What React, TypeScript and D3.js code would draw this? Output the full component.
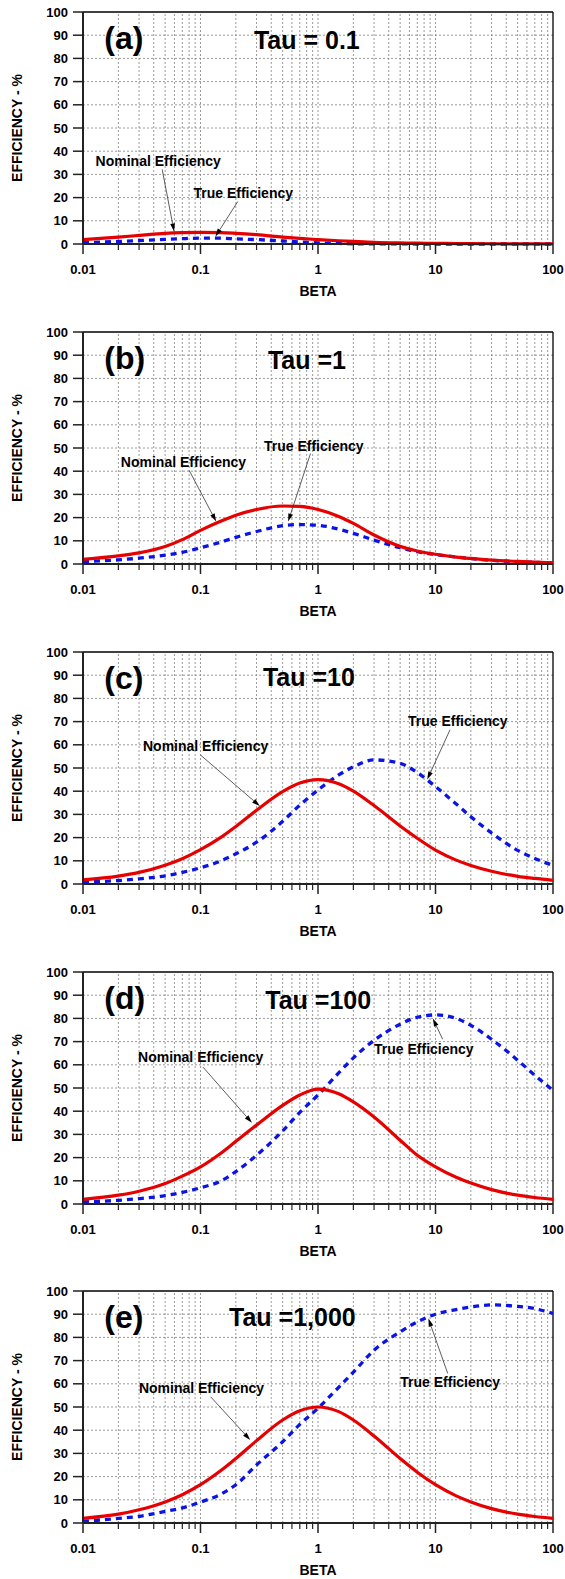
import React from 'react';
import * as d3 from 'd3';

const BETA = [0.01, 0.02, 0.03, 0.05, 0.07, 0.1, 0.15, 0.2, 0.3, 0.5, 0.7, 1, 1.5, 2, 3, 5, 7, 10, 15, 20, 30, 50, 70, 100];

const nominalA = [1.9, 3.0, 3.7, 4.6, 4.9, 5.0, 4.9, 4.6, 4.0, 3.0, 2.4, 1.9, 1.4, 1.1, 0.7, 0.45, 0.35, 0.3, 0.2, 0.15, 0.1, 0.06, 0.04, 0.03];
const trueA = [0.6, 1.1, 1.5, 2.0, 2.3, 2.5, 2.5, 2.2, 1.9, 1.3, 0.9, 0.5, 0.25, 0.1, 0.05, 0.02, 0.01, 0, 0, 0, 0, 0, 0, 0];

const nominalB = [2.0, 3.5, 4.8, 7.5, 10.5, 14.5, 18.5, 21, 23.5, 25, 24.8, 23.5, 20.5, 17.5, 12.5, 7.6, 5.6, 4.2, 3.0, 2.4, 1.7, 1.1, 0.8, 0.5];
const trueB = [1.0, 1.8, 2.5, 3.8, 5.0, 7.0, 9.5, 11.5, 14, 16.5, 17, 16.7, 15, 13.2, 10.3, 7.0, 5.3, 4.1, 3.0, 2.3, 1.6, 1.0, 0.7, 0.5];

const nominalC = [1.8, 3.4, 5.0, 8.1, 10.9, 14.8, 20.2, 24.8, 31.8, 39.8, 43.5, 45, 43.2, 40, 33.8, 25, 19.7, 14.6, 10.3, 8.0, 5.5, 3.3, 2.4, 1.6];
const trueC = [0.8, 1.5, 2.2, 3.5, 5, 7, 10, 13, 18, 27, 34, 40.5, 47, 50.5, 53.5, 52, 48, 42, 34.5, 29, 22, 14.5, 11, 8];

const nominalD = [2.0, 3.8, 5.5, 8.8, 12, 16, 22, 27, 34, 42.5, 47, 49.5, 47.5, 44, 37.5, 27.5, 21, 16, 11.5, 9, 6.2, 3.8, 2.8, 2.0];
const trueD = [0.9, 1.6, 2.3, 3.6, 5, 7, 10, 14, 21, 31.5, 39.5, 47, 56.5, 63, 70.5, 77.5, 80.5, 81.5, 80, 77, 71, 62, 55.5, 49];

const nominalE = [2, 3.8, 5.7, 9.1, 12.2, 16.5, 22.7, 27.8, 35.5, 44.4, 48.4, 50, 48, 44.4, 37.5, 27.8, 21.9, 16.5, 11.7, 9.1, 6.2, 3.8, 2.8, 2.0];
const trueE = [0.7, 2, 2.9, 5, 6.5, 9, 12.5, 16.5, 25, 35, 42.5, 49.5, 58.5, 65, 74.5, 82.4, 86.7, 90, 92, 93.1, 94, 93.4, 92.4, 90.3];

const LETTERS = ['(a)', '(b)', '(c)', '(d)', '(e)'];
const TAUS = ['Tau = 0.1', 'Tau =1', 'Tau =10', 'Tau =100', 'Tau =1,000'];
const NOMINAL = [nominalA, nominalB, nominalC, nominalD, nominalE];
const TRUE = [trueA, trueB, trueC, trueD, trueE];

const X_TICKS = [0.01, 0.1, 1, 10, 100];
const X_TICK_LABELS = ['0.01', '0.1', '1', '10', '100'];
const Y_TICKS = [0, 10, 20, 30, 40, 50, 60, 70, 80, 90, 100];

// label placement, in (beta, efficiency) of each panel
const layout = [
  { top: 0, tau: [0.285, 84], nomText: [0.0128, 33.6], nomArrow: [0.0472, 32.1, 0.0596, 5.4], trueText: [0.0871, 20], trueArrow: [0.2075, 18.3, 0.134, 3.2] },
  { top: 320, tau: [0.375, 84], nomText: [0.021, 41.9], nomArrow: [0.08, 40.4, 0.136, 18.3], trueText: [0.347, 48.7], trueArrow: [0.863, 47.6, 0.557, 18.3] },
  { top: 640, tau: [0.34, 85.5], nomText: [0.0324, 57.5], nomArrow: [0.1, 55.6, 0.32, 33.6], trueText: [5.83, 68], trueArrow: [13.3, 66.5, 8.5, 45] },
  { top: 960, tau: [0.356, 84], nomText: [0.0294, 61.2], nomArrow: [0.105, 59, 0.274, 35], trueText: [3.0, 64.7], trueArrow: [11.5, 71, 9.5, 80] },
  { top: 1279, tau: [0.175, 84.8], nomText: [0.0299, 56.2], nomArrow: [0.122, 54.4, 0.265, 35.8], trueText: [5.02, 58.5], trueArrow: [12.7, 64.5, 8.7, 88.1] },
];

const FONT = '"Liberation Sans", Arial, sans-serif';

const x = d3.scaleLog().domain([0.01, 100]).range([83, 553]);
const y = d3.scaleLinear().domain([0, 100]).range([244, 12]);

const line = d3.line<number>()
  .x((d, i) => x(BETA[i]))
  .y((d) => y(d))
  .curve(d3.curveMonotoneX);

// every 1..9 x decade, for the grid and minor ticks
const logTicks: number[] = [];
for (const dec of [0.01, 0.1, 1, 10]) {
  for (let k = 1; k <= 9; k++) logTicks.push(+(k * dec).toPrecision(3));
}
logTicks.push(100);

function Arrow ({ a }: { a: number[] }) {
  const x1 = x(a[0]), y1 = y(a[1]), x2 = x(a[2]), y2 = y(a[3]);
  const ang = Math.atan2(y2 - y1, x2 - x1);
  const L = 8, w = 2.4;
  const bx = x2 - L * Math.cos(ang), by = y2 - L * Math.sin(ang);
  const pts = [
    [x2, y2],
    [bx + w * Math.sin(ang), by - w * Math.cos(ang)],
    [bx - w * Math.sin(ang), by + w * Math.cos(ang)],
  ];
  return (
    <g>
      <line x1={x1} y1={y1} x2={bx} y2={by} stroke="#333" strokeWidth={0.8} />
      <polygon points={pts.map(p => p.join(',')).join(' ')} fill="#000" />
    </g>
  );
}

function Panel ({ i }: { i: number }) {
  const L = layout[i];
  return (
    <g transform={`translate(0, ${L.top})`} fontFamily={FONT} fontWeight="bold">
      {/* grid */}
      {logTicks.filter(t => t > 0.01 && t < 100).map(t => (
        <line key={'gx' + t} x1={x(t)} x2={x(t)} y1={y(0)} y2={y(100)}
          stroke="#808080" strokeWidth={0.8} strokeDasharray="2,2" />
      ))}
      {Y_TICKS.filter(t => t > 0 && t < 100).map(t => (
        <line key={'gy' + t} x1={x(0.01)} x2={x(100)} y1={y(t)} y2={y(t)}
          stroke="#808080" strokeWidth={0.8} strokeDasharray="2,2" />
      ))}

      {/* frame */}
      <line x1={x(0.01)} x2={x(100)} y1={y(100)} y2={y(100)} stroke="#000" strokeWidth={1.3} />
      <line x1={x(100)} x2={x(100)} y1={y(100)} y2={y(0)} stroke="#000" strokeWidth={1.3} />

      {/* curves */}
      <path d={line(TRUE[i]) || ''} fill="none" stroke="#0a14e6" strokeWidth={3.3} strokeDasharray="6,5" />
      <path d={line(NOMINAL[i]) || ''} fill="none" stroke="#e60000" strokeWidth={3.2} />

      {/* axes */}
      <line x1={x(0.01)} x2={x(0.01)} y1={y(100)} y2={y(0)} stroke="#222" strokeWidth={2} />
      <line x1={x(0.01)} x2={x(100)} y1={y(0)} y2={y(0)} stroke="#222" strokeWidth={2} />
      {Y_TICKS.map(t => (
        <g key={'yt' + t}>
          <line x1={x(0.01) - 10} x2={x(0.01)} y1={y(t)} y2={y(t)} stroke="#222" strokeWidth={1.5} />
          <text x={68} y={y(t)} dy="0.36em" textAnchor="end" fontSize={13}>{t}</text>
        </g>
      ))}
      {logTicks.map(t => {
        const major = X_TICKS.includes(t);
        return <line key={'xt' + t} x1={x(t)} x2={x(t)} y1={y(0)} y2={y(0) + (major ? 10 : 6)}
          stroke="#222" strokeWidth={major ? 1.5 : 1.2} />;
      })}
      {X_TICKS.map((t, k) => (
        <text key={'xl' + t} x={x(t)} y={274} textAnchor="middle" fontSize={13}>{X_TICK_LABELS[k]}</text>
      ))}
      <text x={(x(0.01) + x(100)) / 2} y={296} textAnchor="middle" fontSize={14}>BETA</text>
      <text transform={`translate(22, ${(y(0) + y(100)) / 2}) rotate(-90)`} textAnchor="middle" fontSize={14}>EFFICIENCY - %</text>

      {/* labels */}
      <text x={x(0.0152)} y={y(84)} fontSize={32}>{LETTERS[i]}</text>
      <text x={x(L.tau[0])} y={y(L.tau[1])} fontSize={25}>{TAUS[i]}</text>
      <text x={x(L.nomText[0])} y={y(L.nomText[1])} fontSize={14}>Nominal Efficiency</text>
      <text x={x(L.trueText[0])} y={y(L.trueText[1])} fontSize={14}>True Efficiency</text>
      <Arrow a={L.nomArrow} />
      <Arrow a={L.trueArrow} />
    </g>
  );
}

export default function App () {
  return (
    <svg width={565} height={1579} style={{ position: 'absolute', left: 0, top: 0, background: '#fff' }}>
      <rect width={565} height={1579} fill="#fff" />
      {LETTERS.map((_, i) => <Panel key={i} i={i} />)}
    </svg>
  );
}
